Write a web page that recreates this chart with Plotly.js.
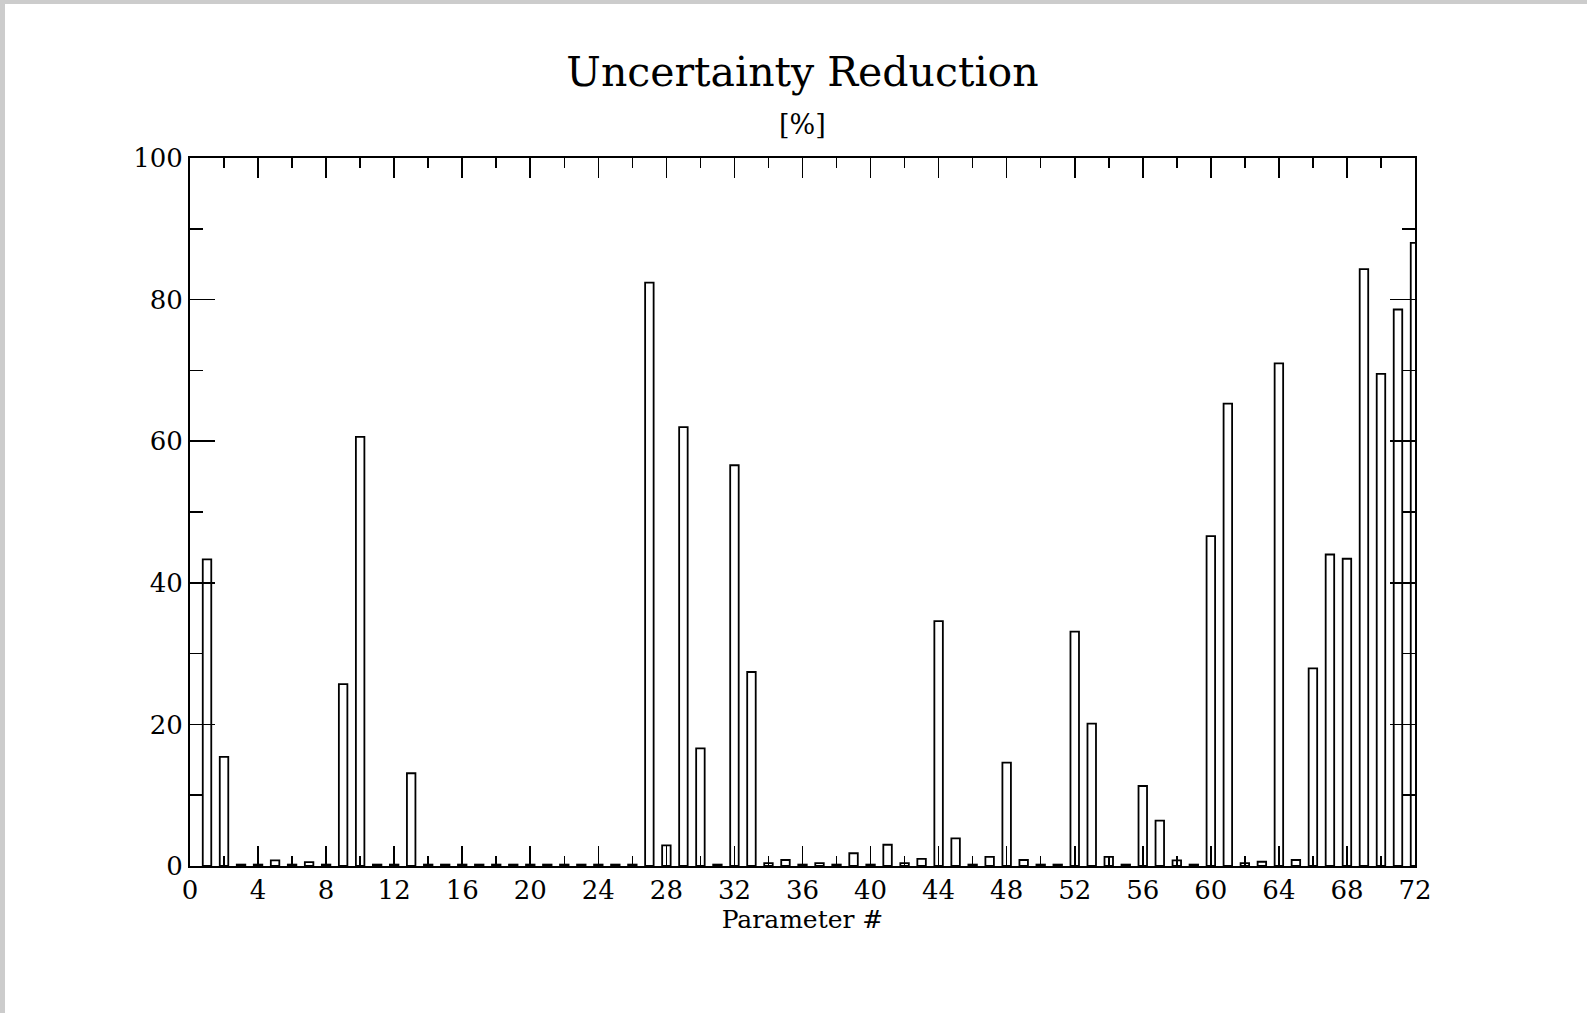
<!DOCTYPE html>
<html>
<head>
<meta charset="utf-8">
<script src="https://cdn.plot.ly/plotly-3.0.1.min.js"></script>
<style>
  html, body { margin: 0; padding: 0; background: #cccccc; width: 1587px; height: 1013px; overflow: hidden; }
  #chart { position: absolute; left: 5px; top: 4px; width: 1582px; height: 1009px; background: #ffffff; }
</style>
</head>
<body>
<div id="chart"></div>
<script>
// Parameter numbers
const parameters = [
  1, 2, 3, 4, 5, 6, 7, 8, 9, 10, 11, 12, 13, 14, 15, 16, 17, 18,
  19, 20, 21, 22, 23, 24, 25, 26, 27, 28, 29, 30, 31, 32, 33, 34, 35, 36,
  37, 38, 39, 40, 41, 42, 43, 44, 45, 46, 47, 48, 49, 50, 51, 52, 53, 54,
  55, 56, 57, 58, 59, 60, 61, 62, 63, 64, 65, 66, 67, 68, 69, 70, 71, 72
];
// Uncertainty reduction [%]
const reduction = [
  43.3, 15.4, 0.2, 0.2, 0.8, 0.2, 0.55, 0.2, 25.7, 60.6, 0.2, 0.2, 13.1, 0.2, 0.2, 0.2, 0.2, 0.2,
  0.2, 0.2, 0.2, 0.2, 0.2, 0.2, 0.2, 0.2, 82.4, 2.9, 62.0, 16.6, 0.2, 56.6, 27.4, 0.4, 0.85, 0.2,
  0.4, 0.2, 1.8, 0.2, 3.0, 0.4, 1.0, 34.6, 3.9, 0.2, 1.3, 14.6, 0.85, 0.2, 0.2, 33.1, 20.1, 1.3,
  0.2, 11.3, 6.4, 0.8, 0.2, 46.6, 65.3, 0.4, 0.6, 71.0, 0.85, 27.9, 44.0, 43.4, 84.3, 69.5, 78.6, 88.0
];
const xTickVals = [0, 4, 8, 12, 16, 20, 24, 28, 32, 36, 40, 44, 48, 52, 56, 60, 64, 68, 72];
const yTickVals = [0, 20, 40, 60, 80, 100];

const FONT = 'DejaVu Serif, Liberation Serif, serif';

const trace = {
  type: 'bar',
  x: parameters,
  y: reduction,
  width: 0.5,
  marker: { color: '#ffffff', line: { color: '#000000', width: 1.8 } },
  hoverinfo: 'x+y'
};

const layout = {
  width: 1582,
  height: 1009,
  paper_bgcolor: '#ffffff',
  plot_bgcolor: '#ffffff',
  margin: { l: 185, r: 172, t: 154, b: 147 },
  showlegend: false,
  bargap: 0,
  font: { family: FONT, color: '#000000' },
  title: {
    text: 'Uncertainty Reduction',
    font: { family: FONT, size: 41, color: '#000000' },
    x: 0.5, xref: 'paper', xanchor: 'center',
    y: 1 - 82 / 1009, yref: 'container', yanchor: 'bottom'
  },
  annotations: [{
    text: '[%]', xref: 'paper', yref: 'paper', x: 0.5, y: 1.022,
    xanchor: 'center', yanchor: 'bottom', showarrow: false,
    font: { family: FONT, size: 27, color: '#000000' }
  }],
  xaxis: {
    range: [0, 72],
    tickmode: 'array',
    tickvals: xTickVals,
    ticktext: xTickVals.map(String),
    ticks: 'inside', ticklen: 20, tickwidth: 1.6, tickcolor: '#000000',
    minor: { dtick: 2, tick0: 0, ticks: 'inside', ticklen: 10, tickwidth: 1.6, tickcolor: '#000000', showgrid: false },
    showline: true, linecolor: '#000000', linewidth: 2, mirror: 'allticks',
    showgrid: false, zeroline: false,
    tickfont: { family: FONT, size: 26, color: '#000000' },
    title: { text: 'Parameter #', font: { family: FONT, size: 25, color: '#000000' }, standoff: 4 },
    fixedrange: true
  },
  yaxis: {
    range: [0, 100],
    tickmode: 'array',
    tickvals: yTickVals,
    ticktext: yTickVals.map(String),
    ticks: 'inside', ticklen: 25, tickwidth: 1.6, tickcolor: '#000000',
    minor: { dtick: 10, tick0: 0, ticks: 'inside', ticklen: 13, tickwidth: 1.6, tickcolor: '#000000', showgrid: false },
    showline: true, linecolor: '#000000', linewidth: 2, mirror: 'allticks',
    showgrid: false, zeroline: false,
    tickfont: { family: FONT, size: 26, color: '#000000' },
    fixedrange: true
  }
};

Plotly.newPlot('chart', [trace], layout, { displayModeBar: false, staticPlot: true });
</script>
</body>
</html>
